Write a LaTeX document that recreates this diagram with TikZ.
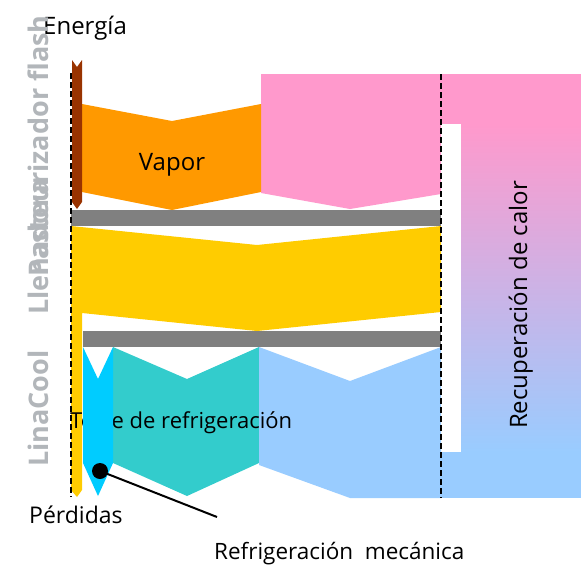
\documentclass[tikz,border=0pt]{standalone}
\usepackage{fontspec}
\setmainfont{Open Sans}
\definecolor{cpink}{HTML}{FF99CC}
\definecolor{corange}{HTML}{FF9900}
\definecolor{cbrown}{HTML}{993300}
\definecolor{cbar}{HTML}{808080}
\definecolor{cyellow}{HTML}{FFCC00}
\definecolor{ccyan}{HTML}{00CCFF}
\definecolor{cteal}{HTML}{33CCCC}
\definecolor{clblue}{HTML}{99CCFF}
\definecolor{cgrey}{HTML}{B2B6BA}
\tikzset{
  lbl/.style={font=\fontsize{22.5}{26}\selectfont, inner sep=0pt, text=black},
  biglbl/.style={font=\fontsize{24}{28}\selectfont, inner sep=0pt, text=black},
  greylbl/.style={font=\fontsize{27}{30}\selectfont\bfseries, text=cgrey, rotate=90, anchor=base west, inner sep=0pt},
  boundary/.style={draw=black, line width=1.6pt, dash pattern=on 6pt off 3pt},
  leader/.style={draw=black, line width=2pt},
}
\begin{document}
\begin{tikzpicture}[x=1pt,y=-1pt]
\useasboundingbox (0,0) rectangle (581,566);
% right column: heat recovery
\fill[cpink] (441,74) rectangle (581,124);
\fill[clblue] (441,452) rectangle (581,498);
\shade[top color=cpink,bottom color=clblue] (461,124) rectangle (581,452);
% pink flow
\fill[cpink] (261,74) -- (441,74) -- (441,194) -- (350,209) -- (261,193) -- cycle;
% vapor
\fill[corange] (82,104) -- (172,121) -- (261,104) -- (261,192) -- (172,210) -- (82,192) -- cycle;
% energy
\fill[cbrown] (72,60) -- (77,67) -- (82,60) -- (82,202) -- (77,209) -- (72,202) -- cycle;
% grey bars
\fill[cbar] (71,210) rectangle (441,226);
\fill[cbar] (83,331) rectangle (441,347);
% yellow flow
\fill[cyellow] (71,226) -- (257,245) -- (441,226) -- (441,312) -- (257,331) -- (82,313) -- (82,490) -- (77,497) -- (71,490) -- cycle;
% teal and light blue
\fill[cteal] (113,347) -- (187,379) -- (259,347) -- (259,463) -- (187,496) -- (113,463) -- cycle;
\fill[clblue] (259,347) -- (350,381) -- (441,347) -- (441,498) -- (350,498) -- (259,465) -- cycle;
% text behind cyan
\node[font=\fontsize{22}{26}\selectfont, inner sep=0pt, anchor=base west] (torre) at (70,428) {Torre de refrigeración};
% cyan
\fill[ccyan] (83,347) -- (98,379) -- (113,347) -- (113,463) -- (98,496) -- (83,463) -- cycle;
% boundaries
\coordinate (lt) at (71,73);
\coordinate (lb) at (71,497);
\coordinate (rt) at (441,74);
\coordinate (rb) at (441,498);
\draw[boundary] (lt) -- (lb);
\draw[boundary] (rt) -- (rb);
% leader
\node[circle, fill=black, minimum size=16pt, inner sep=0pt] (dot) at (100,471) {};
\coordinate (leadend) at (217,517);
\draw[leader] (dot.center) -- (leadend);
% labels
\node[biglbl, anchor=base west] (energia) at (43,34) {Energía};
\node[biglbl, anchor=base] (vapor) at (172,170) {Vapor};
\node[font=\fontsize{23}{27}\selectfont, inner sep=0pt, anchor=base west] (perdidas) at (29,523) {Pérdidas};
\node[lbl, anchor=base west] (mecanica) at (214,559) {Refrigeración\ \ mecánica};
\node[biglbl, anchor=base, rotate=90] (recup) at (527,305) {Recuperación de calor};
% grey stage labels
\node[greylbl] (linacool) at (48,467) {LinaCool};
\node[greylbl] (llenadora) at (48,315) {Llenadora};
\node[greylbl] (pasteur) at (48,277) {Pasteurizador flash};
\end{tikzpicture}
\end{document}
